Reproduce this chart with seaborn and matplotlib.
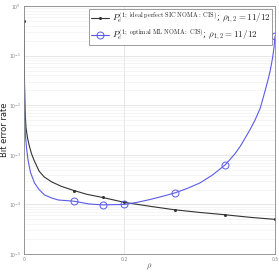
import numpy as np
import pandas as pd
import matplotlib
matplotlib.use("Agg")
import matplotlib.pyplot as plt
import seaborn as sns

# values (log-scale BER vs rho)
x_sic = [0.0, 0.001, 0.002, 0.004, 0.007, 0.01, 0.015, 0.02, 0.03, 0.04, 0.055,
         0.075, 0.1, 0.125, 0.157, 0.2, 0.25, 0.3, 0.35, 0.4, 0.45, 0.5]
ber_sic = [0.5, 0.03, 8e-3, 3.5e-3, 2.2e-3, 1.6e-3, 1.05e-3, 7.8e-4, 4.7e-4, 3.6e-4, 2.85e-4,
           2.3e-4, 1.9e-4, 1.6e-4, 1.38e-4, 1.1e-4, 9.2e-5, 7.8e-5, 6.9e-5, 6.2e-5, 5.5e-5, 5e-5]
sic_marks = [0.0, 0.1, 0.157, 0.2, 0.3, 0.4, 0.5]

x_ml = [0.0005, 0.001, 0.0026, 0.005, 0.008, 0.013, 0.021, 0.03, 0.041, 0.055, 0.068,
        0.1, 0.13, 0.157, 0.2, 0.225, 0.25, 0.275, 0.3, 0.325, 0.35, 0.375, 0.4,
        0.41, 0.42, 0.43, 0.44, 0.45, 0.46, 0.47, 0.477, 0.485, 0.49, 0.495, 0.498, 0.5]
ber_ml = [0.03, 0.02, 2.7e-3, 1.4e-3, 7.9e-4, 4.4e-4, 2.7e-4, 2e-4, 1.55e-4, 1.35e-4, 1.23e-4,
          1.16e-4, 1.02e-4, 9.8e-5, 1.0e-4, 1.1e-4, 1.25e-4, 1.45e-4, 1.7e-4, 2.1e-4, 2.7e-4,
          3.9e-4, 6.2e-4, 8e-4, 1.05e-3, 1.45e-3, 2.15e-3, 3.2e-3, 5e-3, 8.5e-3, 1.5e-2,
          3e-2, 4.8e-2, 9e-2, 0.15, 0.25]
ml_marks = [0.1, 0.157, 0.2, 0.3, 0.4, 0.5]

label_sic = r"$P_e^{(1;\ \mathrm{ideal\ perfect\ SIC\ NOMA:\ CIS})}$; $\rho_{1,2} = 11/12$"
label_ml = r"$P_e^{(1;\ \mathrm{optimal\ ML\ NOMA:\ CIS})}$; $\rho_{1,2} = 11/12$"

sns.set_style("white")
plt.rcParams["mathtext.fontset"] = "cm"

fig = plt.figure(figsize=(2.79, 2.72), dpi=100)
ax = fig.add_axes([0.086, 0.066, 0.9, 0.912])

df_sic = pd.DataFrame({"x": x_sic, "ber": ber_sic})
df_ml = pd.DataFrame({"x": x_ml, "ber": ber_ml})

sic_idx = [x_sic.index(v) for v in sic_marks]
ml_idx = [x_ml.index(v) for v in ml_marks]

sns.lineplot(data=df_sic, x="x", y="ber", ax=ax, color="#333333", lw=0.8,
             marker="o", markersize=2.2, markevery=sic_idx, markeredgewidth=0,
             label=label_sic, sort=False, estimator=None)
sns.lineplot(data=df_ml, x="x", y="ber", ax=ax, color="#5b5be8", lw=0.8,
             marker="o", markersize=5, markevery=ml_idx, markerfacecolor="none",
             markeredgecolor="#5b5be8", markeredgewidth=0.7,
             label=label_ml, sort=False, estimator=None)

ax.set_yscale("log")
ax.set_xlim(0, 0.5)
ax.set_ylim(1e-5, 1)
ax.set_xticks([0, 0.2, 0.5])
ax.set_xticklabels(["0", "0.2", "0.5"])
ax.set_yticks([1e-5, 1e-4, 1e-3, 1e-2, 1e-1, 1])
ax.tick_params(axis="both", which="both", labelsize=3.3, colors="#888888",
               length=0, pad=2)
ax.grid(True, which="major", color="#dddddd", lw=0.5)
ax.grid(True, which="minor", axis="y", color="#eeeeee", lw=0.4)
for s in ax.spines.values():
    s.set_color("#888888")
    s.set_linewidth(0.6)

ax.set_xlabel(r"$\rho$", fontsize=6, labelpad=0, color="#555555")
ax.set_ylabel("Bit error rate", fontsize=6, color="#222222")
ax.yaxis.set_label_coords(-0.06, 0.5)

leg = ax.legend(loc="upper right", fontsize=6.5, handlelength=2.0,
                borderpad=0.2, labelspacing=0.2, handletextpad=0.3,
                borderaxespad=0.3, fancybox=False, framealpha=1,
                edgecolor="#777777")
leg.get_frame().set_linewidth(0.5)

fig.savefig("out.png", dpi=100)
